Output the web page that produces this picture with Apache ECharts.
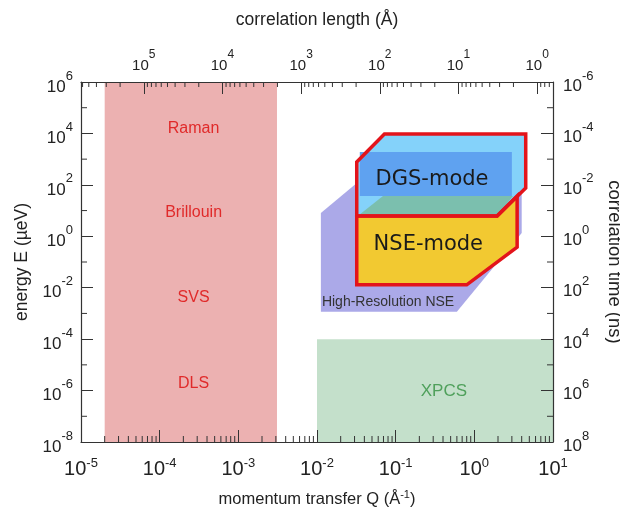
<!DOCTYPE html>
<html>
<head>
<meta charset="utf-8">
<script src="https://cdn.jsdelivr.net/npm/echarts@6/dist/echarts.min.js"></script>
<style>
  html, body { margin: 0; padding: 0; background: #fff; }
  #main { width: 620px; height: 513px; }
</style>
</head>
<body>
<div id="main"></div>
<script>
// axis ranges
const qRange = [1e-5, 10];
const eRange = [1e-8, 1e6];
const tauRange = [1e-6, 1e8];
const lengthRange = [0.6283, 628318];

// light scattering band and XPCS box (Q, E)
const lightQ = [2e-5, 3.1e-3];
const lightE = [1e-8, 1e6];
const xpcsQ = [1e-2, 10];
const xpcsE = [1e-8, 1e-4];

const lightNames = ['Raman', 'Brillouin', 'SVS', 'DLS'];
const lightNameQ = [2.7e-4, 2.7e-4, 2.7e-4, 2.7e-4];
const lightNameE = [1.6e4, 8.1, 4e-3, 1.8e-6];

// spin-echo shapes, corners as [Q, E]
const hrNse = [[0.0112, 1.15e-3], [0.0112, 8.1], [0.072, 930], [4.0, 930], [4.0, 1.35], [0.60, 1.15e-3]];
const dgsOuter = [[0.032, 6.2], [0.032, 780], [0.072, 9500], [4.5, 9500], [4.5, 76], [1.95, 6.2]];
const dgsFront = [[0.035, 37], [0.035, 1900], [3.0, 1900], [3.0, 37]];
const dgsFloor = [[0.033, 6.2], [0.069, 37], [3.1, 37], [1.95, 6.2]];
const nseBox = [[0.032, 6.2], [0.032, 0.013], [0.80, 0.013], [3.5, 0.38], [3.5, 37], [1.95, 6.2]];

const boxNames = ['DGS-mode', 'NSE-mode'];
const boxNameQ = [0.29, 0.26];
const boxNameE = [155, 0.46];
const hrName = 'High-Resolution NSE';
const hrNameQ = 0.08;
const hrNameE = 2.8e-3;
const xpcsName = 'XPCS';
const xpcsNameQ = 0.41;
const xpcsNameE = 9e-7;

// minor tick positions
const mantissas = [2, 3, 4, 5, 6, 7, 8, 9];
const qDecades = [1e-5, 1e-4, 1e-3, 1e-2, 1e-1, 1];
const lengthDecades = [0.1, 1, 10, 100, 1e3, 1e4, 1e5];
const eOddDecades = [1e-7, 1e-5, 1e-3, 1e-1, 10, 1e3, 1e5];
const tauOddDecades = [1e-5, 1e-3, 1e-1, 10, 1e3, 1e5, 1e7];

const FONT = "'Liberation Sans', Arial, sans-serif";
const INK = '#222';
const AXIS = '#333';

let chart = echarts.init(document.getElementById('main'));

function decadeLabel(v) {
    const k = Math.log10(v);
    const r = Math.round(k);
    if (Math.abs(k - r) > 1e-6) return '';
    return '{b|10}{e|' + r + '}';
}

// lbl: [base size, base top pad, sup size, sup bottom pad, margin]
function axisBase(extra, lbl, nameSize) {
    return Object.assign({
        type: 'log', logBase: 10, nameLocation: 'middle',
        nameTextStyle: {
            fontSize: nameSize, color: INK, fontFamily: FONT,
            rich: {s: {fontSize: 11, fontFamily: FONT, color: INK, padding: [0, 0, 9, 0]}}
        },
        axisLine: {lineStyle: {color: AXIS, width: 1.2}},
        axisTick: {inside: true, length: 12, lineStyle: {color: AXIS, width: 1}},
        axisLabel: {
            formatter: decadeLabel, color: INK, fontFamily: FONT, fontSize: lbl[0], margin: lbl[4],
            rich: {
                b: {fontSize: lbl[0], fontFamily: FONT, color: INK, padding: [lbl[1], 0, 0, 0]},
                e: {fontSize: lbl[2], fontFamily: FONT, color: INK, padding: [0, 0, lbl[3], 0]}
            }
        },
        splitLine: {show: false},
        z: 10
    }, extra);
}

function minors(decades, lo, hi) {
    const out = [];
    for (const d of decades) for (const m of mantissas) {
        const v = m * d;
        if (v > lo && v < hi) out.push([v]);
    }
    return out;
}

function tickSeries(data, xi, yi, side, len) {
    return {
        type: 'custom', xAxisIndex: xi, yAxisIndex: yi, silent: true, z: 11, data: data,
        renderItem: function (params, api) {
            const cs = params.coordSys;
            let s;
            if (side === 'bottom' || side === 'top') {
                const x = api.coord([api.value(0), 1])[0];
                const y0 = side === 'bottom' ? cs.y + cs.height : cs.y;
                s = {x1: x, y1: y0, x2: x, y2: side === 'bottom' ? y0 - len : y0 + len};
            } else {
                const y = api.coord([1, api.value(0)])[1];
                const x0 = side === 'left' ? cs.x : cs.x + cs.width;
                s = {x1: x0, y1: y, x2: side === 'left' ? x0 + len : x0 - len, y2: y};
            }
            return {type: 'line', shape: s, style: {stroke: AXIS, lineWidth: 1}};
        }
    };
}

function polySeries(points, fill, stroke, width) {
    const flat = [];
    for (const p of points) flat.push(p[0], p[1]);
    return {
        type: 'custom', xAxisIndex: 0, yAxisIndex: 0, silent: true, z: 2, data: [flat],
        renderItem: function (params, api) {
            const pts = [];
            for (let k = 0; k < flat.length; k += 2) pts.push(api.coord([api.value(k), api.value(k + 1)]));
            return {
                type: 'polygon', shape: {points: pts},
                style: {fill: fill || 'none', stroke: stroke || 'none', lineWidth: width || 0, lineJoin: 'miter'}
            };
        }
    };
}

function textSeries(names, qs, es, color, font) {
    return {
        type: 'custom', xAxisIndex: 0, yAxisIndex: 0, silent: true, z: 5,
        data: names.map((n, i) => [qs[i], es[i], i]),
        renderItem: function (params, api) {
            const p = api.coord([api.value(0), api.value(1)]);
            return {
                type: 'text', x: p[0], y: p[1],
                style: {
                    text: names[api.value(2)], fill: color, font: font,
                    align: 'center', verticalAlign: 'middle', textAlign: 'center', textVerticalAlign: 'middle'
                }
            };
        }
    };
}

const rect = (q, e) => [[q[0], e[0]], [q[0], e[1]], [q[1], e[1]], [q[1], e[0]]];

const option = {
    animation: false,
    backgroundColor: '#fff',
    grid: {left: 81, right: 67, top: 82, bottom: 71, containLabel: false, outerBoundsMode: 'none'},
    xAxis: [
        axisBase({
            min: qRange[0], max: qRange[1], splitNumber: 6, interval: 1, position: 'bottom',
            name: 'momentum transfer Q (Å{s|-1})', nameGap: 47
        }, [20, 6, 13, 6, 11], 16.5),
        axisBase({
            min: lengthRange[0], max: lengthRange[1], splitNumber: 6, inverse: true, position: 'top',
            name: 'correlation length (Å)', nameGap: 53
        }, [15, 8, 12, 14, 7], 17.5)
    ],
    yAxis: [
        axisBase({
            min: eRange[0], max: eRange[1], splitNumber: 7, interval: 2, position: 'left',
            name: 'energy E (µeV)', nameGap: 43
        }, [17, 10, 13, 12, 8], 17.5),
        axisBase({
            min: tauRange[0], max: tauRange[1], splitNumber: 7, interval: 2, inverse: true, position: 'right',
            name: 'correlation time (ns)', nameGap: 49, nameRotate: -90
        }, [17, 8, 13, 12, 10], 18.5)
    ],
    series: [
        polySeries(rect(lightQ, lightE), '#ecb1b1'),
        polySeries(rect(xpcsQ, xpcsE), '#c4e0cb'),
        polySeries(hrNse, '#aba9e8'),
        polySeries(dgsOuter, '#84d2fa'),
        polySeries(dgsFront, '#5fa2f0'),
        polySeries(dgsFloor, '#7bbfae'),
        polySeries(nseBox, '#f2c931'),
        polySeries(dgsOuter, null, '#e3141b', 3.5),
        polySeries(nseBox, null, '#e3141b', 3.5),
        textSeries(lightNames, lightNameQ, lightNameE, '#e02a2a', '16px ' + FONT),
        textSeries([xpcsName], [xpcsNameQ], [xpcsNameE], '#4fa05b', '17px ' + FONT),
        textSeries(boxNames, boxNameQ, boxNameE, '#1a1a1a', "21px 'DejaVu Sans', sans-serif"),
        textSeries([hrName], [hrNameQ], [hrNameE], '#333', '14px ' + FONT),
        tickSeries(minors(qDecades, qRange[0], qRange[1]), 0, 0, 'bottom', 6),
        tickSeries(minors(lengthDecades, lengthRange[0], lengthRange[1]), 1, 0, 'top', 5),
        tickSeries(eOddDecades.map(v => [v]), 0, 0, 'left', 6),
        tickSeries(tauOddDecades.map(v => [v]), 0, 1, 'right', 6)
    ]
};

chart.setOption(option);
</script>
</body>
</html>
